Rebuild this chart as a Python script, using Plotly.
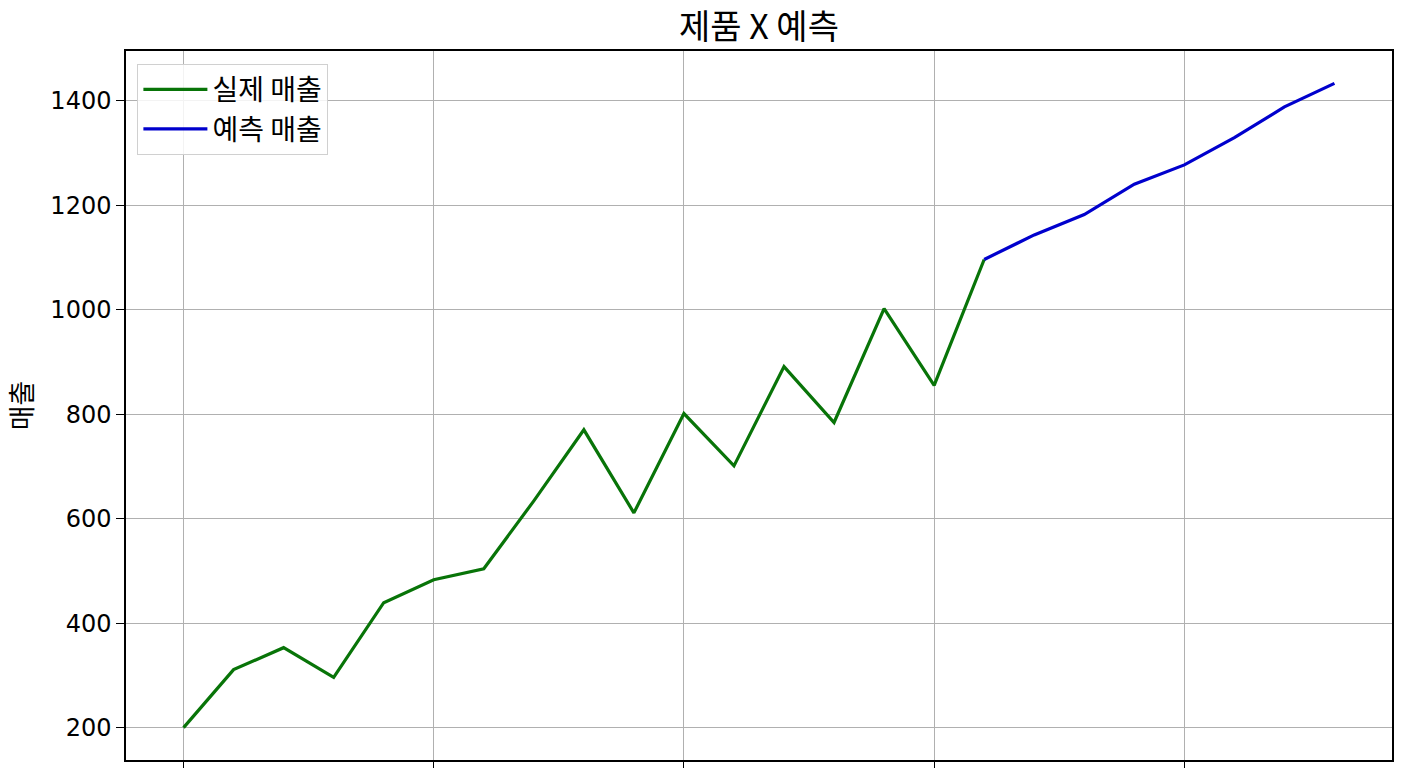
import plotly.graph_objects as go

# 실제 매출 (index 0-16), 예측 매출 (index 16-23)
actual_idx = list(range(0, 17))
actual_sales = [200, 311, 353, 296, 439, 483, 504, 634, 770, 611,
                801, 701, 891, 784, 1002, 855, 1096]

forecast_idx = list(range(16, 24))
forecast_sales = [1096, 1143, 1182, 1240, 1277, 1329, 1388, 1433]

y_ticks = [200, 400, 600, 800, 1000, 1200, 1400]
x_ticks = [0, 5, 10, 15, 20]

NUM_FONT = "DejaVu Sans, Noto Sans CJK KR, sans-serif"
KR_FONT = "Noto Sans CJK KR, DejaVu Sans, sans-serif"

fig = go.Figure()

fig.add_trace(go.Scatter(
    x=actual_idx,
    y=actual_sales,
    mode="lines",
    name="실제 매출",
    line=dict(color="#087408", width=3.2)
))

fig.add_trace(go.Scatter(
    x=forecast_idx,
    y=forecast_sales,
    mode="lines",
    name="예측 매출",
    line=dict(color="#0000CD", width=3.2)
))

fig.update_layout(
    width=1408,
    height=768,
    margin=dict(l=126, r=16, t=51, b=0),
    paper_bgcolor="white",
    plot_bgcolor="white",
    font=dict(family=NUM_FONT, size=24, color="black"),
    title=dict(
        text="제품 X 예측",
        x=0.5,
        xref="paper",
        xanchor="center",
        y=0.965,
        yanchor="middle",
        font=dict(family=KR_FONT, size=34, color="black")
    ),
    showlegend=True,
    legend=dict(
        x=0.009,
        y=0.982,
        xanchor="left",
        yanchor="top",
        bgcolor="rgba(255,255,255,0.85)",
        bordercolor="#d0d0d0",
        borderwidth=1,
        font=dict(family=KR_FONT, size=28),
        itemwidth=64,
        tracegroupgap=0
    )
)

fig.update_xaxes(
    range=[-1.15, 24.15],
    tickvals=x_ticks,
    showticklabels=False,
    ticks="outside",
    ticklen=8,
    tickwidth=1.3,
    tickcolor="black",
    showgrid=True,
    gridcolor="#b0b0b0",
    gridwidth=1.2,
    zeroline=False,
    showline=True,
    linecolor="black",
    linewidth=1.5,
    mirror=True
)

fig.update_yaxes(
    range=[138, 1495],
    tickvals=y_ticks,
    ticks="outside",
    ticklen=8,
    tickwidth=1.3,
    tickcolor="black",
    tickfont=dict(family=NUM_FONT, size=24),
    showgrid=True,
    gridcolor="#b0b0b0",
    gridwidth=1.2,
    zeroline=False,
    showline=True,
    linecolor="black",
    linewidth=1.5,
    mirror=True,
    title=dict(
        text="매출",
        font=dict(family=KR_FONT, size=27),
        standoff=10
    )
)

# drop the default page margin so the figure sits at the window's corner
fig.write_html(
    "out.html",
    config={"displayModeBar": False},
    post_script="document.body.style.margin='0';document.body.style.overflow='hidden';"
)
